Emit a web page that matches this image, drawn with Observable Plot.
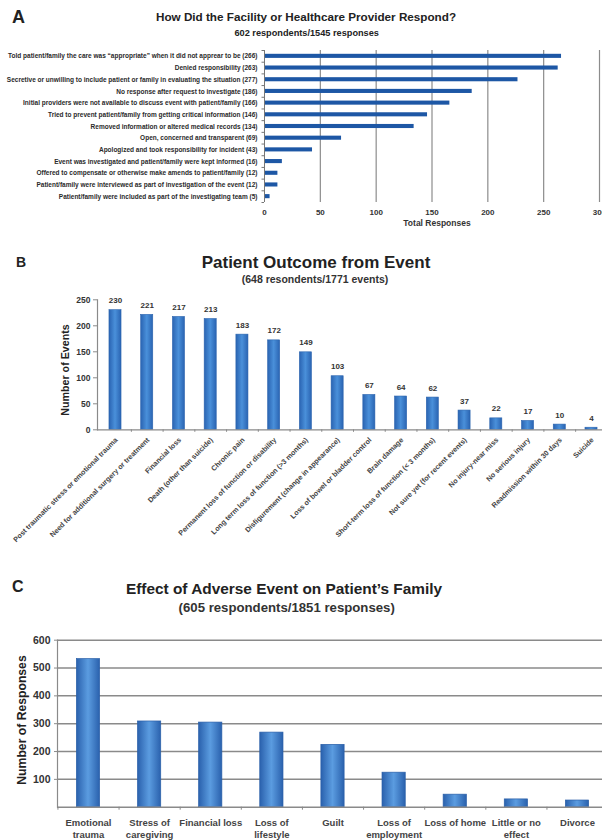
<!DOCTYPE html>
<html><head><meta charset="utf-8">
<script src="https://cdn.jsdelivr.net/npm/d3@7"></script>
<script src="https://cdn.jsdelivr.net/npm/@observablehq/plot@0.6"></script>
<style>
body{margin:0;background:#fff;}
#root{position:relative;width:602px;height:840px;overflow:hidden;font-family:"Liberation Sans",Arial,Helvetica,sans-serif;font-weight:bold;color:#222;}
.t{position:absolute;white-space:nowrap;line-height:1;}
.c{transform:translateX(-50%);}
.r{transform:translate(-50%,-50%) rotate(-90deg);}
.pl{position:absolute;left:0;}
</style></head><body><div id="root"></div>
<script>
// ---- Panel A: provider response ----
const respLabels = [
  "Told patient/family the care was \u201cappropriate\u201d when it did not apprear to be (266)",
  "Denied responsibility (263)",
  "Secretive or unwilling to include patient or family in evaluating the situation (277)",
  "No response after request to investigate (186)",
  "Initial providers were not available to discuss event with patient/family (166)",
  "Tried to prevent patient/family from getting critical information (146)",
  "Removed information or altered medical records (134)",
  "Open, concerned and transparent (69)",
  "Apologized and took responsibility for incident (43)",
  "Event was investigated and patient/family were kept informed (16)",
  "Offered to compensate or otherwise make amends to patient/family (12)",
  "Patient/family were interviewed as part of investigation of the event (12)",
  "Patient/family were included as part of the investigating team (5)"
];
const respValues = [266, 263, 227, 186, 166, 146, 134, 69, 43, 16, 12, 12, 5];
const respTicks = [0, 50, 100, 150, 200, 250, 300];

// ---- Panel B: patient outcome ----
const outcomeLabels = [
  "Post traumatic stress or emotional trauma",
  "Need for additional surgery or treatment",
  "Financial loss",
  "Death (other than suicide)",
  "Chronic pain",
  "Permanent loss of function or disability",
  "Long term loss of function (>3 months)",
  "Disfigurement (change in appearance)",
  "Loss of bowel or bladder control",
  "Brain damage",
  "Short-term loss of function (< 3 months)",
  "Not sure yet (for recent events)",
  "No injury-near miss",
  "No serious injury",
  "Readmission within 30 days",
  "Suicide"
];
const outcomeValues = [230, 221, 217, 213, 183, 172, 149, 103, 67, 64, 62, 37, 22, 17, 10, 4];
const outcomeTicks = [0, 50, 100, 150, 200, 250];

// ---- Panel C: effect on family ----
const familyCats = ["Emotional trauma", "Stress of caregiving", "Financial loss", "Loss of lifestyle", "Guilt", "Loss of employment", "Loss of home", "Little or no effect", "Divorce"];
const familyTickLabels = ["Emotional\ntrauma", "Stress of\ncaregiving", "Financial loss", "Loss of\nlifestyle", "Guilt", "Loss of\nemployment", "Loss of home", "Little or no\neffect", "Divorce"];
const familyValues = [532, 308, 304, 268, 224, 124, 45, 28, 24];
const familyTicks = [100, 200, 300, 400, 500, 600];

const FONT = '"Liberation Sans", Arial, Helvetica, sans-serif';
const root = document.getElementById("root");

function addText(html, cls, css) {
  const d = document.createElement("div");
  d.className = "t " + cls;
  d.textContent = html;
  Object.assign(d.style, css);
  root.appendChild(d);
}
function place(svg, top) {
  svg.classList.add("pl");
  svg.style.top = top + "px";
  root.appendChild(svg);
}
function addGrad(svg, id, stops) {
  const defs = d3.select(svg).insert("defs", ":first-child");
  const g = defs.append("linearGradient").attr("id", id)
    .attr("x1", 0).attr("x2", 1).attr("y1", 0).attr("y2", 0);
  stops.forEach(([o, c]) => g.append("stop").attr("offset", o).attr("stop-color", c));
}
const baseStyle = {fontFamily: FONT, fontWeight: "bold", background: "transparent", overflow: "visible", color: "#222"};

// ===== Panel A =====
const respData = respLabels.map((label, i) => ({label, value: respValues[i]}));
const stepA = 152 / respLabels.length;
const plotA = Plot.plot({
  width: 602, height: 240,
  marginTop: 50, marginBottom: 38, marginLeft: 264, marginRight: 3,
  style: baseStyle,
  x: {domain: [0, 300], label: null},
  y: {domain: respLabels, paddingInner: 0.65, paddingOuter: 0.325, round: false, label: null},
  marks: [
    Plot.gridX(respTicks.slice(1), {stroke: "#8c8c8c", strokeOpacity: 1, strokeWidth: 1.2}),
    Plot.barX(respData, {x: "value", y: "label", fill: "#1d57a5"}),
    Plot.ruleX([0], {stroke: "#777"}),
    Plot.axisX(respTicks, {tickSize: 0, tickPadding: 7, fontSize: 8, fill: "#333", label: null}),
    Plot.axisY({tickSize: 0, tickPadding: 7, fontSize: 6.5, fill: "#2a2a2a", label: null}),
    Plot.axisY({tickSize: 2.5, tickFormat: () => "", dy: stepA / 2, stroke: "#777", label: null}),
    Plot.axisY([respLabels[0]], {tickSize: 2.5, tickFormat: () => "", dy: -stepA / 2, stroke: "#777", label: null})
  ]
});
place(plotA, 0);

// ===== Panel B =====
const outcomeData = outcomeLabels.map((label, i) => ({label, value: outcomeValues[i]}));
const stepB = 512 / (16 - 0.62 + 0.754);
const plotB = Plot.plot({
  width: 602, height: 320,
  marginTop: 59.3, marginBottom: 130.7, marginLeft: 97, marginRight: 0,
  style: baseStyle,
  x: {domain: outcomeLabels, range: [97, 609], paddingInner: 0.62, paddingOuter: 0.377, round: false, label: null},
  y: {domain: [0, 250], label: null},
  marks: [
    Plot.barY(outcomeData, {x: "label", y: "value", fill: "url(#gradB)", stroke: "#2b64ae", strokeWidth: 0.6}),
    Plot.text(outcomeData, {x: "label", y: "value", text: d => String(d.value), dy: -9.5, fontSize: 8, fontWeight: "bold", fill: "#333"}),
    Plot.ruleY([0], {stroke: "#8a8a8a", strokeWidth: 1.2}),
    Plot.frame({anchor: "left", stroke: "#8a8a8a", strokeWidth: 1.2}),
    Plot.axisY(outcomeTicks, {tickSize: 4, tickPadding: 3, fontSize: 8.5, stroke: "#8a8a8a", fill: "#333", label: null}),
    Plot.axisX({tickSize: 0, tickPadding: 9, dx: 1, tickRotate: -45, fontSize: 7.2, fill: "#444", label: null}),
    Plot.axisX({tickSize: 2.5, tickFormat: () => "", dx: stepB / 2, stroke: "#8a8a8a", label: null})
  ]
});
addGrad(plotB, "gradB", [[0, "#2a64b2"], [0.5, "#4a90da"], [1, "#2a64b2"]]);
place(plotB, 240);

// ===== Panel C =====
const familyData = familyCats.map((cat, i) => ({cat, value: familyValues[i]}));
const stepC = 551 / (9 - 0.62 + 0.634);
const plotC = Plot.plot({
  width: 602, height: 280,
  marginTop: 79.7, marginBottom: 33.3, marginLeft: 57, marginRight: 0,
  style: baseStyle,
  x: {domain: familyCats, range: [57, 608], paddingInner: 0.62, paddingOuter: 0.317, round: false, label: null},
  y: {domain: [0, 600], label: null},
  marks: [
    Plot.gridY(familyTicks, {stroke: "#8a8a8a", strokeOpacity: 1, strokeWidth: 1.5}),
    Plot.barY(familyData, {x: "cat", y: "value", fill: "url(#gradC)", stroke: "#2a5fa8", strokeWidth: 0.7}),
    Plot.ruleY([0], {stroke: "#8a8a8a", strokeWidth: 1.5}),
    Plot.frame({anchor: "left", stroke: "#8a8a8a", strokeWidth: 1.2}),
    Plot.axisY(familyTicks, {tickSize: 3, tickPadding: 4, fontSize: 10.5, stroke: "#8a8a8a", fill: "#333", label: null}),
    Plot.axisX({tickSize: 0, tickPadding: 10.5, fontSize: 9.5, lineHeight: 1.28, fill: "#444",
      tickFormat: d => familyTickLabels[familyCats.indexOf(d)], label: null}),
    Plot.axisX({tickSize: 3, tickFormat: () => "", dx: stepC / 2, stroke: "#8a8a8a", label: null}),
    Plot.axisX([familyCats[0]], {tickSize: 3, tickFormat: () => "", dx: -stepC / 2, stroke: "#8a8a8a", label: null})
  ]
});
addGrad(plotC, "gradC", [[0, "#2a61ad"], [0.5, "#5b9ce0"], [1, "#2a61ad"]]);
place(plotC, 560);

// ===== Titles and labels =====
addText("A", "", {left: "12px", top: "7.7px", fontSize: "18px"});
addText("How Did the Facility or Healthcare Provider Respond?", "c", {left: "306px", top: "11px", fontSize: "11.7px"});
addText("602 respondents/1545 responses", "c", {left: "306.7px", top: "28.5px", fontSize: "9.2px"});
addText("Total Responses", "c", {left: "437px", top: "218.8px", fontSize: "8.5px", color: "#333"});

addText("B", "", {left: "16px", top: "255px", fontSize: "14px"});
addText("Patient Outcome from Event", "c", {left: "316px", top: "253.5px", fontSize: "17px"});
addText("(648 resondents/1771 events)", "c", {left: "315px", top: "274px", fontSize: "10.5px", color: "#333"});
addText("Number of Events", "r", {left: "65px", top: "370px", fontSize: "10.7px"});

addText("C", "", {left: "12px", top: "579.4px", fontSize: "16px"});
addText("Effect of Adverse Event on Patient\u2019s Family", "c", {left: "284px", top: "581px", fontSize: "15.4px"});
addText("(605 respondents/1851 responses)", "c", {left: "286.7px", top: "600.5px", fontSize: "13.2px", color: "#333"});
addText("Number of Responses", "r", {left: "22px", top: "720px", fontSize: "12.2px"});
</script>
</body></html>
